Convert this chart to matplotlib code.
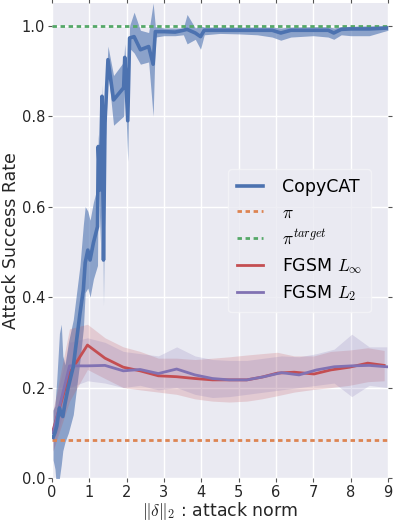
import matplotlib
matplotlib.use("Agg")
import matplotlib.pyplot as plt
import numpy as np

# ---------------- data ----------------
cc_x = [0.03, 0.08, 0.13, 0.20, 0.25, 0.29, 0.35, 0.44, 0.57, 0.66, 0.75, 0.84, 0.89, 0.96, 1.02,
        1.11, 1.22, 1.24, 1.29, 1.34, 1.38, 1.42, 1.50, 1.65, 1.92, 1.95, 2.03, 2.08, 2.20, 2.37,
        2.59, 2.71, 2.77, 3.00, 3.30, 3.52, 3.62, 3.84, 3.98, 4.08, 4.50, 5.00, 5.50, 5.90, 6.13,
        6.40, 7.00, 7.40, 7.55, 7.75, 8.00, 8.50, 9.00]
cc_y = [0.09, 0.10, 0.115, 0.155, 0.14, 0.136, 0.165, 0.202, 0.246, 0.305, 0.364, 0.416, 0.476, 0.504, 0.482,
        0.52, 0.556, 0.733, 0.637, 0.844, 0.482, 0.785, 0.925, 0.836, 0.863, 0.93, 0.79, 0.973, 0.976, 0.947,
        0.954, 0.915, 0.987, 0.987, 0.986, 0.99, 0.992, 0.984, 0.976, 0.99, 0.99, 0.99, 0.99, 0.99, 0.984,
        0.99, 0.99, 0.99, 0.984, 0.992, 0.993, 0.993, 0.995]
cc_lo = [0.04, 0.02, -0.03, 0.0, 0.03, 0.06, 0.08, 0.10, 0.14, 0.20, 0.26, 0.33, 0.41, 0.42, 0.40,
         0.44, 0.47, 0.70, 0.52, 0.80, 0.38, 0.72, 0.90, 0.78, 0.80, 0.88, 0.70, 0.95, 0.94, 0.915,
         0.92, 0.80, 0.975, 0.978, 0.978, 0.98, 0.96, 0.97, 0.948, 0.98, 0.983, 0.982, 0.98, 0.975, 0.968,
         0.975, 0.978, 0.975, 0.97, 0.98, 0.978, 0.978, 0.99]
cc_hi = [0.15, 0.16, 0.22, 0.32, 0.34, 0.27, 0.25, 0.30, 0.35, 0.41, 0.47, 0.56, 0.60, 0.59, 0.57,
         0.61, 0.645, 0.76, 0.70, 0.87, 0.56, 0.83, 0.955, 0.89, 0.92, 0.96, 0.83, 1.0, 1.03, 0.99,
         0.985, 1.05, 0.998, 0.995, 0.995, 0.995, 1.025, 0.995, 1.0, 0.997, 0.997, 0.997, 0.997, 0.997, 0.995,
         0.997, 0.998, 0.998, 0.995, 0.998, 0.999, 1.0, 1.0]

pi_value = 0.083
pi_target_value = 1.0

fi_x = [0.03, 0.47, 0.95, 1.42, 1.91, 2.36, 2.85, 3.34, 3.83, 4.30, 4.75, 5.22, 5.62, 6.04, 6.49,
        7.02, 7.47, 7.97, 8.46, 8.90]
fi_y = [0.106, 0.232, 0.294, 0.265, 0.245, 0.237, 0.226, 0.224, 0.22, 0.217, 0.217, 0.217, 0.223, 0.232, 0.234,
        0.23, 0.239, 0.245, 0.254, 0.249]
fi_lo = [0.06, 0.17, 0.24, 0.22, 0.20, 0.195, 0.19, 0.185, 0.175, 0.17, 0.168, 0.17, 0.175, 0.182, 0.19,
         0.196, 0.2, 0.205, 0.213, 0.215]
fi_hi = [0.15, 0.33, 0.34, 0.31, 0.29, 0.28, 0.265, 0.265, 0.262, 0.265, 0.268, 0.272, 0.275, 0.278, 0.27,
         0.27, 0.28, 0.283, 0.288, 0.282]

f2_x = [0.03, 0.47, 0.95, 1.42, 1.91, 2.36, 2.85, 3.34, 3.83, 4.30, 4.75, 5.22, 5.68, 6.15, 6.62,
        7.09, 7.56, 8.03, 8.50, 8.97]
f2_y = [0.10, 0.248, 0.248, 0.249, 0.237, 0.24, 0.231, 0.241, 0.228, 0.22, 0.217, 0.217, 0.224, 0.233, 0.228,
        0.239, 0.246, 0.248, 0.249, 0.246]
f2_lo = [0.06, 0.20, 0.215, 0.21, 0.20, 0.205, 0.195, 0.20, 0.185, 0.178, 0.18, 0.185, 0.19, 0.195, 0.20,
         0.205, 0.21, 0.18, 0.205, 0.20]
f2_hi = [0.15, 0.30, 0.31, 0.30, 0.28, 0.275, 0.27, 0.29, 0.27, 0.262, 0.26, 0.26, 0.265, 0.27, 0.268,
         0.275, 0.285, 0.318, 0.29, 0.29]

labels = ["CopyCAT", r"$\pi$", r"$\pi^{target}$", r"FGSM $L_\infty$", r"FGSM $L_2$"]
xticks = [0, 1, 2, 3, 4, 5, 6, 7, 8, 9]
yticks = [0.0, 0.2, 0.4, 0.6, 0.8, 1.0]

# ---------------- style ----------------
plt.rcParams.update({
    "font.family": ["DejaVu Sans"],
    "mathtext.fontset": "cm",
    "axes.facecolor": "#EAEAF2",
    "figure.facecolor": "white",
    "grid.color": "white",
    "grid.linewidth": 1.0,
})

blue, orange, green, red, purple = "#4C72B0", "#DD8452", "#55A868", "#C44E52", "#8172B3"

fig = plt.figure(figsize=(3.95, 5.23), dpi=100)
ax = fig.add_axes([0.1316, 0.086, 0.8504, 0.908])
ax.grid(True, zorder=0)
ax.set_axisbelow(True)
for s in ax.spines.values():
    s.set_visible(False)

ax.fill_between(cc_x, cc_lo, cc_hi, color=blue, alpha=0.6, lw=0, zorder=2)
ax.plot(cc_x, cc_y, color=blue, lw=2.6, label=labels[0], zorder=5)

dash = (0, (1.6, 1.3))
ax.axhline(pi_value, color=orange, lw=2.0, ls=dash, label=labels[1], zorder=4)
ax.axhline(pi_target_value, color=green, lw=2.0, ls=dash, label=labels[2], zorder=4)

ax.fill_between(fi_x, fi_lo, fi_hi, color=red, alpha=0.2, lw=0, zorder=2)
ax.plot(fi_x, fi_y, color=red, lw=2.0, label=labels[3], zorder=4)
ax.fill_between(f2_x, f2_lo, f2_hi, color=purple, alpha=0.2, lw=0, zorder=2)
ax.plot(f2_x, f2_y, color=purple, lw=2.0, label=labels[4], zorder=4)

ax.set_xlim(0, 9)
ax.set_ylim(0, 1.05)
ax.set_xticks(xticks)
ax.set_yticks(yticks)
ax.set_yticklabels([f"{v:.1f}" for v in yticks])
ax.tick_params(axis="both", which="major", direction="out", length=3, width=0.8,
               color="#555555", labelsize=10.5, labelcolor="#262626", pad=2,
               top=True, right=True)

ax.set_ylabel("Attack Success Rate", fontsize=12.5, color="#262626", labelpad=1)
ax.set_xlabel(r"$\|\delta\|_2$ : attack norm", fontsize=12.5, color="#262626", labelpad=0)

leg = ax.legend(loc="center right", fontsize=12.5, frameon=True, handlelength=1.5,
                handletextpad=1.1, labelspacing=0.45, borderpad=0.5,
                bbox_to_anchor=(0.975, 0.5))
leg.get_frame().set_facecolor("#EAEAF2")
leg.get_frame().set_edgecolor("#F5F5F8")
leg.get_frame().set_alpha(0.8)

fig.savefig("out.png", dpi=100)
